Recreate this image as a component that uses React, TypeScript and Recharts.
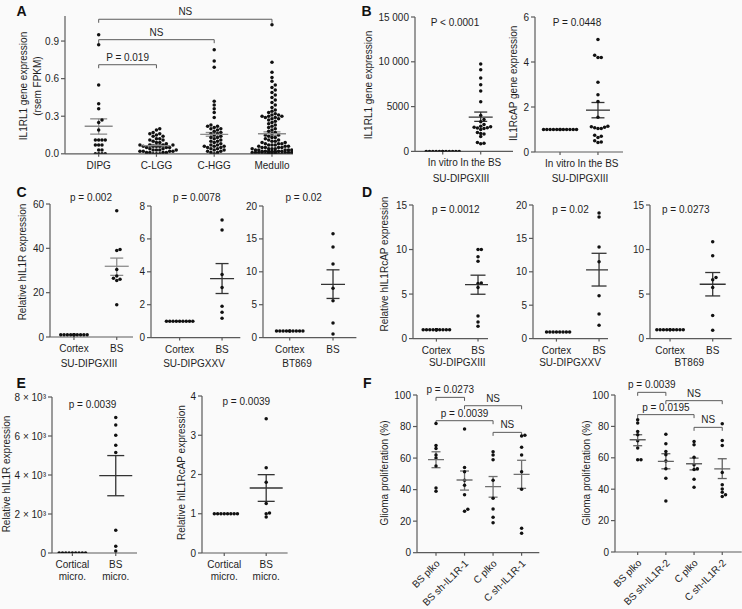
import React from "react";
import { ScatterChart, Scatter, XAxis, YAxis, ErrorBar, ReferenceLine } from "recharts";

const FONT = "'Liberation Sans', Arial, Helvetica, sans-serif";
const INK = "#1e1e1e";
const AXIS = "#5a5a5a";

// ---------- data ----------
// A: IL1RL1 in patient cohorts
const aCats = ["DIPG", "C-LGG", "C-HGG", "Medullo"];
const aDipg = [0.95, 0.87, 0.55, 0.4, 0.36, 0.27, 0.25, 0.19, 0.11, 0.11, 0.11, 0.11, 0.07, 0.07, 0.07, 0.03, 0.03, 0, 0, 0, 0];
const aLgg = [0.2, 0.19, 0.17, 0.16, 0.16, 0.15, 0.14, 0.14, 0.12, 0.12, 0.11, 0.11, 0.1, 0.09, 0.09, 0.08, 0.07, 0.07, 0.07, 0.07, 0.06, 0.06, 0.06, 0.06, 0.05, 0.05, 0.05, 0.04, 0.04, 0.03, 0.03, 0.03, 0.03, 0.02, 0.02, 0.02, 0.02, 0.01, 0.01, 0.01, 0.01, 0, 0, 0];
const aHgg = [0.83, 0.74, 0.69, 0.42, 0.39, 0.36, 0.33, 0.29, 0.23, 0.22, 0.22, 0.21, 0.2, 0.2, 0.19, 0.18, 0.17, 0.16, 0.16, 0.15, 0.14, 0.13, 0.13, 0.12, 0.11, 0.1, 0.1, 0.09, 0.08, 0.07, 0.07, 0.06, 0.06, 0.06, 0.05, 0.05, 0.04, 0.04, 0.03, 0.03, 0.02, 0.02, 0.01, 0.01, 0];
const aMedullo = [1.03, 0.73, 0.65, 0.61, 0.58, 0.55, 0.53, 0.51, 0.49, 0.47, 0.45, 0.43, 0.41, 0.39, 0.37, 0.35, 0.34, 0.33, 0.32, 0.31, 0.31, 0.3, 0.3, 0.3, 0.29, 0.29, 0.28, 0.28, 0.27, 0.26, 0.25, 0.24, 0.23, 0.22, 0.21, 0.2, 0.19, 0.18, 0.17, 0.16, 0.15, 0.15, 0.14, 0.13, 0.13, 0.12, 0.11, 0.11, 0.1, 0.1, 0.09, 0.09, 0.08, 0.08, 0.08, 0.07, 0.07, 0.07, 0.06, 0.06, 0.06, 0.05, 0.05, 0.05, 0.05, 0.04, 0.04, 0.04, 0.04, 0.03, 0.03, 0.03, 0.03, 0.03, 0.02, 0.02, 0.02, 0.02, 0.02, 0.02, 0.02, 0.01, 0.01, 0.01, 0.01, 0.01, 0.01, 0.01, 0.01, 0.01, 0.01, 0, 0, 0, 0, 0, 0];
const aMean = [0.22, 0.065, 0.155, 0.16];
const aSemLo = [0.157, 0.055, 0.14, 0.145];
const aSemHi = [0.279, 0.075, 0.17, 0.175];
const aTicks = [0, 0.3, 0.6, 0.9];

// B: SU-DIPGXIII in vitro vs in the BS
const bCats = ["In vitro", "In the BS"];
const bRl1Vitro = [1, 1, 1, 1, 1, 1, 1, 1, 1, 1, 1, 1];
const bRl1Bs = [9750, 9100, 8200, 7450, 6750, 5550, 4000, 3550, 3300, 3000, 2800, 2750, 2700, 2650, 2600, 2550, 2450, 2100, 2000, 1950, 1650, 1000, 900, 850];
const bRl1Mean = [null, 3830];
const bRl1Lo = [null, 3350];
const bRl1Hi = [null, 4390];
const bRl1Ticks = [0, 5000, 10000, 15000];
const bAcpVitro = [1, 1, 1, 1, 1, 1, 1, 1, 1, 1, 1, 1];
const bAcpBs = [5.0, 4.3, 4.2, 4.2, 3.1, 2.55, 2.25, 1.55, 1.15, 1.12, 1.1, 1.08, 1.05, 1.05, 0.75, 0.7, 0.65, 0.5, 0.45, 0.42];
const bAcpMean = [null, 1.86];
const bAcpLo = [null, 1.52];
const bAcpHi = [null, 2.2];
const bAcpTicks = [0, 2, 4, 6];

// C: relative hIL1R, cortex vs BS
const cdCats = ["Cortex", "BS"];
const c1Cortex = [1, 1, 1, 1, 1, 1, 1, 1, 1, 1, 1];
const c1Bs = [57, 39.5, 39, 30.5, 27.5, 26.5, 26, 25.5, 14.5];
const c1Stats = { mean: [null, 31.9], lo: [null, 27.8], hi: [null, 35.6] };
const c2Cortex = [1, 1, 1, 1, 1, 1, 1, 1, 1];
const c2Bs = [7.15, 6.54, 3.84, 3.05, 1.91, 1.54, 1.18];
const c2Stats = { mean: [null, 3.59], lo: [null, 2.68], hi: [null, 4.5] };
const c3Cortex = [1, 1, 1, 1, 1, 1, 1, 1, 1, 1];
const c3Bs = [15.8, 13.75, 11.2, 7.5, 5.6, 2.2, 0.55];
const c3Stats = { mean: [null, 8.1], lo: [null, 5.95], hi: [null, 10.3] };

// D: relative hIL1RcAP, cortex vs BS
const d1Cortex = [1, 1, 1, 1, 1, 1, 1, 1, 1, 1, 1, 1];
const d1Bs = [10, 10, 9.18, 8.69, 6.25, 6.18, 5.73, 2.55, 1.87, 1.39];
const d1Stats = { mean: [null, 6.07], lo: [null, 4.98], hi: [null, 7.12] };
const d2Cortex = [1, 1, 1, 1, 1, 1, 1, 1];
const d2Bs = [18.8, 18.2, 13.7, 11.5, 6.4, 3.7, 2.0];
const d2Stats = { mean: [null, 10.3], lo: [null, 7.87], hi: [null, 12.77] };
const d3Cortex = [1, 1, 1, 1, 1, 1, 1, 1, 1, 1];
const d3Bs = [10.86, 9.29, 6.85, 6.6, 5.73, 2.58, 0.94];
const d3Stats = { mean: [null, 6.1], lo: [null, 4.79], hi: [null, 7.42] };

// E: microdissected tissue
const eCats = ["Cortical micro.", "BS micro."];
const e1Cortical = [1, 1, 1, 1, 1, 1, 1, 1, 1];
const e1Bs = [6954, 6559, 6044, 5529, 5150, 1168, 343, 103];
const e1Stats = { mean: [null, 3966], lo: [null, 2936], hi: [null, 4996] };
const e1Ticks = [0, 2000, 4000, 6000, 8000];
const e2Cortical = [1, 1, 1, 1, 1, 1, 1, 1];
const e2Bs = [3.42, 2.17, 1.8, 1.26, 1.02, 1.0, 0.92];
const e2Stats = { mean: [null, 1.656], lo: [null, 1.316], hi: [null, 1.996] };
const e2Ticks = [0, 1, 2, 3, 4];

// F: glioma proliferation
const f1Cats = ["BS plko", "BS sh-IL1R-1", "C plko", "C sh-IL1R-1"];
const f1BsPlko = [82, 68, 66, 62, 60, 55, 41, 39];
const f1BsSh = [78.4, 54.1, 51.4, 46, 42.7, 36.8, 27.5, 26.3];
const f1CPlko = [64, 62, 59, 46, 34.5, 27.7, 22.5, 19];
const f1CSh = [74.5, 74, 66.9, 62, 51.4, 40.3, 15.5, 12.3];
const f1Stats = { mean: [59.0, 46.1, 41.9, 49.7], lo: [53.9, 39.7, 35.2, 40.8], hi: [64.0, 51.8, 48.3, 58.6] };
const f2Cats = ["BS plko", "BS sh-IL1R-2", "C plko", "C sh-IL1R-2"];
const f2BsPlko = [84.3, 82.1, 76.8, 74.7, 70.9, 66.2, 58.7, 58.7];
const f2BsSh = [75, 69, 64, 62, 58, 53, 47, 32.5];
const f2CPlko = [70.4, 68.3, 60.4, 55.5, 53, 52.5, 46.4, 41.3];
const f2CSh = [81.7, 71.1, 67.9, 50.6, 42.8, 40.2, 38, 36.5, 35.3];
const f2Stats = { mean: [71.5, 57.7, 56.2, 53.0], lo: [67.7, 53.0, 52.3, 46.8], hi: [74.7, 62.6, 59.8, 59.4] };
const fTicks = [0, 20, 40, 60, 80, 100];

// ---------- helpers ----------
type Bracket = { a: number; b: number; y: number; label: string };

// simple beeswarm: spread points sideways (in px) when they would overlap
function swarm(vals: number[], pxY: number, d: number, maxHalf: number) {
  const sorted = [...vals].sort((p, q) => p - q);
  const placed: { dx: number; py: number }[] = [];
  return sorted.map((v) => {
    const py = v * pxY;
    let best = 0;
    let bestScore = -Infinity;
    for (let k = 0; k < 60; k++) {
      const dx = k === 0 ? 0 : (k % 2 ? 1 : -1) * Math.ceil(k / 2) * d;
      if (Math.abs(dx) > maxHalf) break;
      let minD = Infinity;
      for (const q of placed) minD = Math.min(minD, Math.hypot(q.dx - dx, q.py - py));
      if (minD >= d * 0.95) {
        best = dx;
        break;
      }
      if (minD > bestScore) {
        bestScore = minD;
        best = dx;
      }
    }
    placed.push({ dx: best, py });
    return { dx: best, v };
  });
}

const Dot = (p: any) => <circle cx={p.cx} cy={p.cy} r={1.75} fill="#111" />;

function CatTick(props: any) {
  const { x, y, payload, labels, kind } = props;
  const label: string = labels[payload.value] ?? "";
  const common = { fontSize: 10, fill: INK, fontFamily: FONT };
  if (kind === "rot") {
    return (
      <text transform={`translate(${x + 2},${y + 1}) rotate(-45)`} textAnchor="end" dominantBaseline="central" {...common}>
        {label}
      </text>
    );
  }
  if (kind === "two") {
    const [l1, ...rest] = label.split(" ");
    return (
      <text x={x} y={y} textAnchor="middle" {...common}>
        <tspan x={x} dy="0.71em">{l1}</tspan>
        <tspan x={x} dy="1.2em">{rest.join(" ")}</tspan>
      </text>
    );
  }
  return (
    <text x={x} y={y} dy="0.71em" textAnchor="middle" {...common}>
      {label}
    </text>
  );
}

type PanelProps = {
  left: number; top: number; w: number; h: number;
  xDomain: [number, number]; yMax: number; yTicks: number[]; yFmt?: (v: number) => string;
  cats: string[]; groups: number[][];
  mean: (number | null)[]; lo: (number | null)[]; hi: (number | null)[];
  color: string; meanHalf: number; capHalf: number; spread: number;
  brackets?: Bracket[]; kind?: "plain" | "two" | "rot";
};

function DotPanel(p: PanelProps) {
  const L = 50, T = 30, R = 10;
  const B = p.kind === "rot" ? 80 : 40;
  const width = L + p.w + R;
  const height = T + p.h + B;
  const pxX = p.w / (p.xDomain[1] - p.xDomain[0]);
  const pxY = p.h / p.yMax;
  const dots = p.groups.flatMap((g, i) =>
    swarm(g, pxY, 3.3, p.spread).map((s) => ({ x: i + s.dx / pxX, y: s.v }))
  );
  const means = p.mean
    .map((m, i) => (m == null ? null : { x: i, y: m, err: [m - (p.lo[i] as number), (p.hi[i] as number) - m] }))
    .filter(Boolean) as any[];
  const MeanLine = (s: any) => (
    <line x1={s.cx - p.meanHalf} x2={s.cx + p.meanHalf} y1={s.cy} y2={s.cy} stroke={p.color} strokeWidth={1.3} />
  );
  const drop = 3.5 / pxY;
  const lineProps = { stroke: AXIS, strokeWidth: 1, ifOverflow: "visible" as const };
  return (
    <div style={{ position: "absolute", left: p.left - L, top: p.top - T, width, height }}>
      <ScatterChart width={width} height={height} margin={{ top: T, right: R, bottom: 0, left: 0 }}>
        <XAxis
          type="number"
          dataKey="x"
          domain={p.xDomain}
          ticks={p.cats.map((_, i) => i)}
          interval={0}
          allowDataOverflow
          height={B}
          tickSize={3}
          tickMargin={5}
          axisLine={{ stroke: AXIS, strokeWidth: 1.2 }}
          tickLine={{ stroke: AXIS, strokeWidth: 1.2 }}
          tick={(tp: any) => <CatTick {...tp} labels={p.cats} kind={p.kind ?? "plain"} />}
        />
        <YAxis
          type="number"
          dataKey="y"
          domain={[0, p.yMax]}
          ticks={p.yTicks}
          interval={0}
          allowDataOverflow
          width={L}
          tickSize={4}
          tickMargin={2}
          tickFormatter={p.yFmt}
          axisLine={{ stroke: AXIS, strokeWidth: 1.2 }}
          tickLine={{ stroke: AXIS, strokeWidth: 1.2 }}
          tick={{ fontSize: 10, fill: INK, fontFamily: FONT }}
        />
        <Scatter data={dots} shape={Dot} isAnimationActive={false} />
        <Scatter data={means} shape={MeanLine} isAnimationActive={false}>
          <ErrorBar dataKey="err" direction="y" width={p.capHalf} stroke={p.color} strokeWidth={1.3} />
        </Scatter>
        {(p.brackets ?? []).flatMap((b, i) => [
          <ReferenceLine
            key={`h${i}`}
            segment={[{ x: b.a, y: b.y }, { x: b.b, y: b.y }]}
            {...lineProps}
            label={{ value: b.label, position: "top", offset: 4, fontSize: 10, fill: INK, fontFamily: FONT }}
          />,
          <ReferenceLine key={`l${i}`} segment={[{ x: b.a, y: b.y }, { x: b.a, y: b.y - drop }]} {...lineProps} />,
          <ReferenceLine key={`r${i}`} segment={[{ x: b.b, y: b.y }, { x: b.b, y: b.y - drop }]} {...lineProps} />,
        ])}
      </ScatterChart>
    </div>
  );
}

// ---------- free text (panel letters, axis titles, subtitles, p values) ----------
const letters: [string, number, number][] = [
  ["A", 16.5, 15.5], ["B", 361.5, 15.5], ["C", 16.5, 197], ["D", 362, 197], ["E", 16.5, 388], ["F", 363, 388],
];
const yTitles: [string, number, number][] = [
  ["IL1RL1 gene expression", 23.5, 86], ["(rsem FPKM)", 37.5, 86],
  ["IL1RL1 gene expression", 368, 85], ["IL1RcAP gene expression", 513.7, 83.3],
  ["Relative hIL1R expression", 22.7, 262], ["Relative hIL1RcAP expression", 384, 264],
  ["Relative hIL1R expression", 6, 474], ["Relative hIL1RcAP expression", 181, 472.5],
  ["Glioma proliferation (%)", 384, 473], ["Glioma proliferation (%)", 586, 473],
];
const notes: [string, number, number][] = [
  ["SU-DIPGXIII", 461, 178.5], ["SU-DIPGXIII", 580, 178.5],
  ["SU-DIPGXIII", 89, 363], ["SU-DIPGXXV", 194, 363], ["BT869", 297, 363],
  ["SU-DIPGXIII", 457.3, 362.7], ["SU-DIPGXXV", 570, 362.7], ["BT869", 689.3, 362.7],
  ["P < 0.0001", 455, 22], ["P = 0.0448", 577, 22],
  ["p = 0.002", 91, 197], ["p = 0.0078", 196.7, 197], ["p = 0.02", 303.7, 197],
  ["p = 0.0012", 455.8, 209], ["p = 0.02", 570.5, 209], ["p = 0.0273", 685.8, 209],
  ["p = 0.0039", 92.5, 404], ["p = 0.0039", 246.3, 401.5],
];

function Overlay() {
  return (
    <svg width={742} height={609} style={{ position: "absolute", left: 0, top: 0, pointerEvents: "none" }} fontFamily={FONT}>
      {letters.map(([t, x, y]) => (
        <text key={t} x={x} y={y} fontSize={14} fontWeight="bold" fill="#111">{t}</text>
      ))}
      {yTitles.map(([t, x, y], i) => (
        <text key={`y${i}`} x={x} y={y} fontSize={10} fill={INK} textAnchor="middle" dominantBaseline="central" transform={`rotate(-90, ${x}, ${y})`}>
          {t}
        </text>
      ))}
      {notes.map(([t, x, y], i) => (
        <text key={`n${i}`} x={x} y={y} fontSize={10} fill={INK} textAnchor="middle" dominantBaseline="central">{t}</text>
      ))}
    </svg>
  );
}

const fmtThousands = (v: number) => (v >= 10000 ? `${v / 1000} 000` : String(v));
const fmtSci = (v: number) => (v === 0 ? "0" : `${v / 1000} \u00d7 10\u00b3`);

export default function App() {
  return (
    <div style={{ position: "absolute", left: 0, top: 0, width: 742, height: 609, overflow: "hidden", background: "#fafafa", fontFamily: FONT }}>
      <DotPanel left={65} top={16.2} w={228} h={137.8} xDomain={[-0.583, 3.364]} yMax={1.1} yTicks={aTicks} yFmt={(v) => v.toFixed(1)}
        cats={aCats} groups={[aDipg, aLgg, aHgg, aMedullo]} mean={aMean} lo={aSemLo} hi={aSemHi}
        color="#8c8c8c" meanHalf={14} capHalf={8.5} spread={20}
        brackets={[
          { a: 0, b: 3, y: 1.074, label: "NS" },
          { a: 0, b: 2, y: 0.911, label: "NS" },
          { a: 0, b: 1, y: 0.711, label: "P = 0.019" },
        ]} />

      <DotPanel left={415} top={17.3} w={98} h={134.4} xDomain={[-0.73, 1.85]} yMax={15000} yTicks={bRl1Ticks} yFmt={fmtThousands}
        cats={bCats} groups={[bRl1Vitro, bRl1Bs]} mean={bRl1Mean} lo={bRl1Lo} hi={bRl1Hi}
        color="#333" meanHalf={12} capHalf={6.5} spread={19} />
      <DotPanel left={535} top={16.7} w={88} h={135} xDomain={[-0.66, 1.66]} yMax={6} yTicks={bAcpTicks}
        cats={bCats} groups={[bAcpVitro, bAcpBs]} mean={bAcpMean} lo={bAcpLo} hi={bAcpHi}
        color="#333" meanHalf={12} capHalf={6.5} spread={19} />

      <DotPanel left={50} top={204.3} w={83} h={133} xDomain={[-0.56, 1.38]} yMax={60} yTicks={[0, 20, 40, 60]}
        cats={cdCats} groups={[c1Cortex, c1Bs]} {...c1Stats} color="#8c8c8c" meanHalf={12} capHalf={6.5} spread={16} />
      <DotPanel left={150.7} top={205.7} w={89.3} h={131.6} xDomain={[-0.675, 1.43]} yMax={8} yTicks={[0, 2, 4, 6, 8]}
        cats={cdCats} groups={[c2Cortex, c2Bs]} {...c2Stats} color="#333" meanHalf={12} capHalf={6.5} spread={16} />
      <DotPanel left={263.3} top={205.7} w={93.4} h={131.6} xDomain={[-0.617, 1.54]} yMax={20} yTicks={[0, 5, 10, 15, 20]}
        cats={cdCats} groups={[c3Cortex, c3Bs]} {...c3Stats} color="#333" meanHalf={12} capHalf={6.5} spread={16} />

      <DotPanel left={413.3} top={204.7} w={75} h={133.6} xDomain={[-0.5625, 1.24]} yMax={15} yTicks={[0, 5, 10, 15]}
        cats={cdCats} groups={[d1Cortex, d1Bs]} {...d1Stats} color="#333" meanHalf={13} capHalf={7.5} spread={16} />
      <DotPanel left={533.3} top={204.7} w={75} h={133.6} xDomain={[-0.55, 1.21]} yMax={20} yTicks={[0, 5, 10, 15, 20]}
        cats={cdCats} groups={[d2Cortex, d2Bs]} {...d2Stats} color="#333" meanHalf={13} capHalf={7.5} spread={16} />
      <DotPanel left={650} top={204.7} w={81.7} h={133.6} xDomain={[-0.47, 1.445]} yMax={15} yTicks={[0, 5, 10, 15]}
        cats={cdCats} groups={[d3Cortex, d3Bs]} {...d3Stats} color="#333" meanHalf={13} capHalf={7.5} spread={16} />

      <DotPanel left={51.7} top={396.7} w={85} h={156} xDomain={[-0.47, 1.49]} yMax={8000} yTicks={e1Ticks} yFmt={fmtSci}
        cats={eCats} groups={[e1Cortical, e1Bs]} {...e1Stats} color="#333" meanHalf={16.5} capHalf={8.5} spread={16} kind="two" />
      <DotPanel left={201.7} top={395.7} w={85.6} h={157} xDomain={[-0.53, 1.51]} yMax={4} yTicks={e2Ticks}
        cats={eCats} groups={[e2Cortical, e2Bs]} {...e2Stats} color="#333" meanHalf={16.5} capHalf={8.5} spread={16} kind="two" />

      <DotPanel left={416.7} top={395} w={122.3} h={157.7} xDomain={[-0.666, 3.62]} yMax={100} yTicks={fTicks}
        cats={f1Cats} groups={[f1BsPlko, f1BsSh, f1CPlko, f1CSh]} {...f1Stats} color="#707070" meanHalf={8} capHalf={4.5} spread={8} kind="rot"
        brackets={[
          { a: 0, b: 1, y: 98.5, label: "p = 0.0273" },
          { a: 1, b: 3, y: 93.2, label: "NS" },
          { a: 0, b: 2, y: 83.7, label: "p = 0.0039" },
          { a: 2, b: 3, y: 76.3, label: "NS" },
        ]} />
      <DotPanel left={615} top={395} w={126.7} h={157} xDomain={[-0.805, 3.69]} yMax={100} yTicks={fTicks}
        cats={f2Cats} groups={[f2BsPlko, f2BsSh, f2CPlko, f2CSh]} {...f2Stats} color="#606060" meanHalf={8} capHalf={4.5} spread={8} kind="rot"
        brackets={[
          { a: 0, b: 1, y: 101.7, label: "p = 0.0039" },
          { a: 1, b: 3, y: 96.4, label: "NS" },
          { a: 0, b: 2, y: 87.5, label: "p = 0.0195" },
          { a: 2, b: 3, y: 79.4, label: "NS" },
        ]} />

      <Overlay />
    </div>
  );
}
